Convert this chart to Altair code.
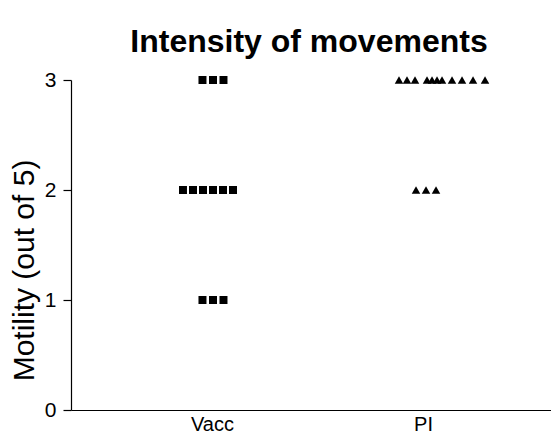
import altair as alt
import pandas as pd

# Data: motility scores per animal, and their horizontal slot (in symbol widths) within the column
groups = ["Vacc", "PI"]
vacc_scores = [3, 3, 3, 2, 2, 2, 2, 2, 2, 1, 1, 1]
vacc_slots = [-0.95, 0.1, 1.15, -2.9, -1.9, -0.9, 0.1, 1.1, 2.1, -0.95, 0.1, 1.15]
pi_scores = [3, 3, 3, 3, 3, 3, 3, 3, 3, 3, 3, 2, 2, 2]
pi_slots = [-2.4, -1.6, -0.8, 0.4, 0.9, 1.4, 1.9, 2.9, 3.9, 5.0, 6.2, -0.7, 0.3, 1.3]

slot_width = 10 / 211  # one symbol width in category units

rows = []
for gi, (g, scores, slots) in enumerate([("Vacc", vacc_scores, vacc_slots), ("PI", pi_scores, pi_slots)]):
    for s, sl in zip(scores, slots):
        rows.append({"group": g, "score": s, "pos": gi + sl * slot_width})
df = pd.DataFrame(rows)

label_expr = "datum.value == 0 ? 'Vacc' : (datum.value == 1 ? 'PI' : '')"

chart = alt.Chart(df).mark_point(filled=True, opacity=1, color="black").encode(
    x=alt.X("pos:Q",
            scale=alt.Scale(domain=[-0.668, 1.668], range=[0, 493], nice=False, zero=False),
            axis=alt.Axis(title=None, values=[0, 1], labelExpr=label_expr, ticks=False,
                          grid=False, domainColor="black", domainWidth=1.2,
                          labelFontSize=20, labelColor="black", labelPadding=4,
                          labelFont="Liberation Sans")),
    y=alt.Y("score:Q",
            scale=alt.Scale(domain=[0, 3], nice=False),
            axis=alt.Axis(title="Motility (out of 5)", values=[0, 1, 2, 3], format="d",
                          grid=False, domainColor="black", domainWidth=1.2,
                          tickColor="black", tickWidth=1.2, tickSize=8,
                          labelFontSize=21, labelColor="black", labelPadding=7,
                          labelFont="Liberation Sans",
                          titleFontSize=30, titleFontWeight="normal", titleColor="black",
                          titleFont="Liberation Sans", titleX=-47, titleY=190,
                          titleAngle=-90, titleAlign="center", titleBaseline="middle")),
    shape=alt.Shape("group:N", scale=alt.Scale(domain=groups, range=["square", "triangle-up"]),
                    legend=None),
    size=alt.Size("group:N", scale=alt.Scale(domain=groups, range=[64, 72]), legend=None),
).properties(
    width=480,
    height=330,
    title=alt.TitleParams("Intensity of movements", fontSize=32, fontWeight="bold",
                          font="Liberation Sans", color="black", anchor="middle",
                          offset=10, dx=-2),
    autosize=alt.AutoSizeParams(type="none"),
    padding={"left": 63, "top": 72, "right": 0, "bottom": 28},
).configure_view(stroke=None)

chart.save("out.html", embed_options={"renderer": "svg", "actions": False})
